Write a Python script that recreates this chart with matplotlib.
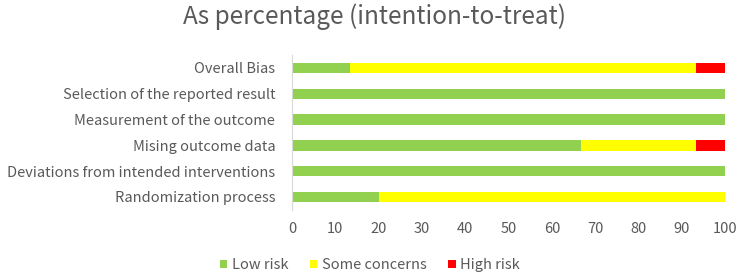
import numpy as np
import matplotlib
matplotlib.use('Agg')
import matplotlib.pyplot as plt

plt.rcParams['font.family'] = ['Noto Sans CJK SC', 'DejaVu Sans']

# Data (bottom to top)
domains = ['Randomization process', 'Deviations from intended interventions',
           'Mising outcome data', 'Measurement of the outcome',
           'Selection of the reported result', 'Overall Bias']
low_risk = [20.0, 100.0, 66.7, 100.0, 100.0, 13.3]
some_concerns = [80.0, 0.0, 26.7, 0.0, 0.0, 80.0]
high_risk = [0.0, 0.0, 6.6, 0.0, 0.0, 6.7]
ticks = [0, 10, 20, 30, 40, 50, 60, 70, 80, 90, 100]

txt = '#595959'
fig = plt.figure(figsize=(7.44, 2.78), dpi=100)
ax = fig.add_axes([0.3925, 0.245, 0.582, 0.557])

y = np.arange(len(domains))
low = np.array(low_risk)
some = np.array(some_concerns)
high = np.array(high_risk)
ax.barh(y, low, height=0.4, color='#92D050', label='Low risk')
ax.barh(y, some, left=low, height=0.4, color='#FFFF00', label='Some concerns')
ax.barh(y, high, left=low + some, height=0.4, color='#FF0000', label='High risk')

ax.set_xlim(0, 100)
ax.set_ylim(-0.5, 5.5)
ax.set_xticks(ticks)
ax.set_yticks(y)
ax.set_yticklabels(domains)
ax.tick_params(axis='both', length=0, colors=txt, labelsize=10.5)
ax.tick_params(axis='x', pad=9)
ax.tick_params(axis='y', pad=12)
for s in ['top', 'right', 'bottom']:
    ax.spines[s].set_visible(False)
ax.spines['left'].set_color('#d9d9d9')

fig.text(0.503, 0.94, 'As percentage (intention-to-treat)', ha='center', va='center',
         fontsize=17.5, color=txt)

leg = fig.legend(loc='center', bbox_to_anchor=(0.497, 0.045), ncol=3, frameon=False,
                 fontsize=10.5, handlelength=0.5, handleheight=0.5, handletextpad=0.3,
                 columnspacing=1.5)
for t in leg.get_texts():
    t.set_color(txt)

fig.savefig('out.png', dpi=100)
